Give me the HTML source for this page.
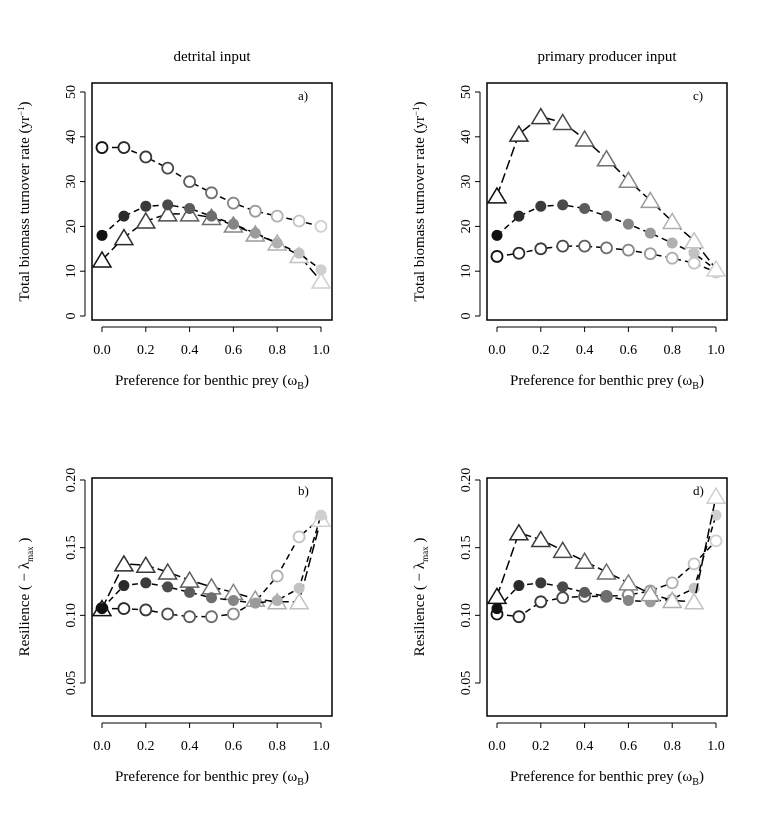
<!DOCTYPE html>
<html><head><meta charset="utf-8"><style>
html,body{margin:0;padding:0;background:#fff;}
svg{display:block;font-family:"Liberation Serif",serif;}
</style></head><body>
<svg id="fig" width="780" height="835" viewBox="0 0 780 835" xmlns="http://www.w3.org/2000/svg"></svg>
<script>
const xs=[0,0.1,0.2,0.3,0.4,0.5,0.6,0.7,0.8,0.9,1.0];
const xTicks=["0.0","0.2","0.4","0.6","0.8","1.0"];
const yTicksTop=["0","10","20","30","40","50"];
const yTicksBot=["0.05","0.10","0.15","0.20"];
const aCircles=[37.6,37.6,35.5,33,30,27.5,25.2,23.4,22.3,21.2,20];
const aFilled=[18,22.3,24.5,24.8,24,22.3,20.5,18.5,16.3,14,10.3];
const aTri=[12.5,17.5,21.2,22.8,22.8,22,20.3,18.3,16.3,13.5,7.8];
const cTri=[26.8,40.6,44.5,43.2,39.5,35.1,30.3,25.8,21.1,16.8,10.5];
const cFilled=[18,22.3,24.5,24.8,24,22.3,20.5,18.5,16.3,14,10.3];
const cCircles=[13.3,14,15,15.6,15.6,15.2,14.7,13.9,12.9,11.8,9.8];
const bTri=[0.105,0.138,0.137,0.132,0.126,0.121,0.117,0.112,0.110,0.110,0.171];
const bFilled=[0.105,0.122,0.124,0.121,0.117,0.113,0.111,0.109,0.111,0.120,0.174];
const bCircles=[0.105,0.105,0.104,0.101,0.099,0.099,0.101,0.110,0.129,0.158,0.172];
const dTri=[0.114,0.161,0.156,0.148,0.140,0.132,0.124,0.116,0.111,0.110,0.188];
const dFilled=[0.105,0.122,0.124,0.121,0.117,0.114,0.111,0.110,0.112,0.120,0.174];
const dCircles=[0.101,0.099,0.110,0.113,0.114,0.114,0.115,0.118,0.124,0.138,0.155];

const NS="http://www.w3.org/2000/svg";
const svg=document.getElementById('fig');
function mk(tag,attrs,parent){const e=document.createElementNS(NS,tag);for(const k in attrs)e.setAttribute(k,attrs[k]);(parent||svg).appendChild(e);return e;}
const greys=["#111","#2a2a2a","#3a3a3a","#4a4a4a","#5c5c5c","#6e6e6e","#858585","#9a9a9a","#b0b0b0","#c2c2c2","#d0d0d0"];

function panel(id,ox,yLoPix,yHiPix,ymin,ymax,yt,label,title,series,ylabel,isRes){
  const x0=ox+10, x1=ox+229;
  const yPix=v=>yLoPix-(v-ymin)/(ymax-ymin)*(yLoPix-yHiPix);
  const xPix=v=>x0+v*(x1-x0);
  const boxTop=isRes?478:83, boxH=isRes?238:237, axY=boxTop+boxH;
  const g=mk('g',{});
  
  
  const box=mk('rect',{x:ox,y:boxTop,width:240,height:boxH,fill:'none',stroke:'#000','stroke-width':1.5},g);
  
  
  const xa=mk('g',{},g);
  
  
  mk('line',{x1:xPix(0),x2:xPix(1),y1:axY+7,y2:axY+7,stroke:'#000'},xa);
  xTicks.forEach(t=>{const xp=xPix(parseFloat(t));
    mk('line',{x1:xp,x2:xp,y1:axY+7,y2:axY+12,stroke:'#000'},xa);
    const tx=mk('text',{x:xp,y:axY+34,'text-anchor':'middle','font-size':14},xa);tx.textContent=t;
    
    });
  const ya=mk('g',{},g);
  
  
  const yv=yt.map(Number);
  mk('line',{x1:ox-7,x2:ox-7,y1:yPix(yv[0]),y2:yPix(yv[yv.length-1]),stroke:'#000'},ya);
  yt.forEach(t=>{const yp=yPix(Number(t));
    mk('line',{x1:ox-12,x2:ox-7,y1:yp,y2:yp,stroke:'#000'},ya);
    const tx=mk('text',{x:ox-17,y:yp,'text-anchor':'middle','font-size':14,transform:`rotate(-90 ${ox-17} ${yp})`},ya);tx.textContent=t;
    
    });
  const pl=mk('text',{x:ox+206,y:boxTop+17,'font-size':13},g);pl.textContent=label;
  
  
  const xt=mk('text',{x:ox+120,y:axY+65,'text-anchor':'middle','font-size':15},g);
  xt.innerHTML='Preference for benthic prey (ω<tspan font-size="10" dy="4">B</tspan><tspan dy="-4">)</tspan>';
  
  
  const ycx=ox-63, ycy=boxTop+boxH/2;
  const ytl=mk('text',{x:ycx,y:ycy,'text-anchor':'middle','font-size':15,transform:`rotate(-90 ${ycx} ${ycy})`},g);
  ytl.innerHTML=ylabel;
  
  
  if(title){const tt=mk('text',{x:ox+120,y:61,'text-anchor':'middle','font-size':15},g);tt.textContent=title;
    
    }
  series.forEach(s=>{
    const sg=mk('g',{},g);
    
    
    const pts=s.vals.map((v,i)=>xPix(xs[i])+','+yPix(v)).join(' ');
    const ln=mk('polyline',{points:pts,fill:'none',stroke:'#000','stroke-width':1.5,'stroke-dasharray':s.kind==='triangle'?'10,4':'6,4'},sg);
    
    
    s.vals.forEach((v,i)=>{const cx=xPix(xs[i]),cy=yPix(v);let m;
      if(s.kind==='circle') m=mk('circle',{cx,cy,r:5.5,fill:'#fff',stroke:greys[i],'stroke-width':1.8},sg);
      else if(s.kind==='filled') m=mk('circle',{cx,cy,r:5.5,fill:greys[i],stroke:'none'},sg);
      else { const h=8; m=mk('polygon',{points:`${cx},${cy-h} ${cx-9},${cy+h-1} ${cx+9},${cy+h-1}`,fill:'#fff',stroke:greys[i],'stroke-width':1.5},sg);}
      
      
    });
  });
}
const ylTop='Total biomass turnover rate (yr<tspan font-size="9" dy="-5">−1</tspan><tspan dy="5">)</tspan>';
const ylBot='Resilience ( − λ<tspan font-size="9" dy="4">max</tspan><tspan dy="-4"> )</tspan>';
panel('a',92,316,92,0,50,yTicksTop,'a)','detrital input',
  [{kind:'circle',vals:aCircles},{kind:'triangle',vals:aTri},{kind:'filled',vals:aFilled}],ylTop,false);
panel('c',487,316,92,0,50,yTicksTop,'c)','primary producer input',
  [{kind:'circle',vals:cCircles},{kind:'filled',vals:cFilled},{kind:'triangle',vals:cTri}],ylTop,false);
panel('b',92,683,480,0.05,0.20,yTicksBot,'b)',null,
  [{kind:'circle',vals:bCircles},{kind:'triangle',vals:bTri},{kind:'filled',vals:bFilled}],ylBot,true);
panel('d',487,683,480,0.05,0.20,yTicksBot,'d)',null,
  [{kind:'circle',vals:dCircles},{kind:'filled',vals:dFilled},{kind:'triangle',vals:dTri}],ylBot,true);
</script>
</body></html>
